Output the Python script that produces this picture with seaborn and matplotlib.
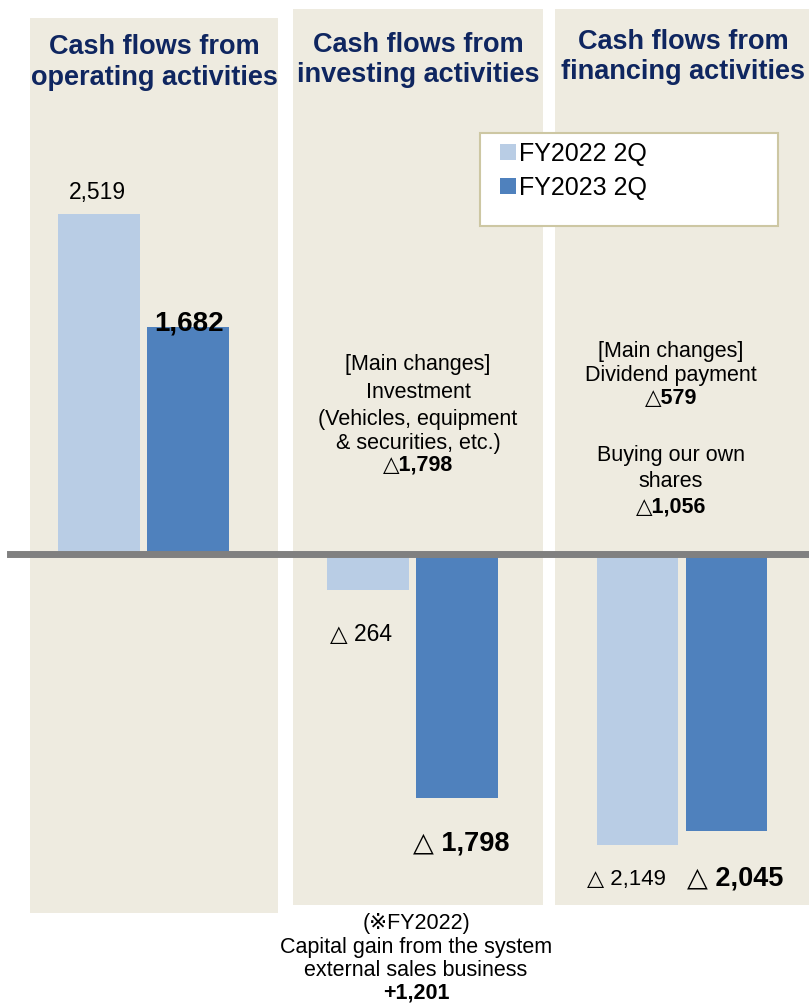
import matplotlib
matplotlib.use("Agg")
import matplotlib.pyplot as plt
from matplotlib.patches import Rectangle
import pandas as pd
import seaborn as sns

# ---- data -------------------------------------------------------------
categories = ["Operating", "Investing", "Financing"]
title_line1 = ["Cash flows from", "Cash flows from", "Cash flows from"]
title_line2 = ["operating activities", "investing activities", "financing activities"]
periods = ["FY2022 2Q", "FY2023 2Q"]
fy2022 = [2519, -264, -2149]
fy2023 = [1682, -1798, -2045]

investing_notes = ["[Main changes]", "Investment", "(Vehicles, equipment",
                   "& securities, etc.)", "△1,798"]
financing_notes = ["[Main changes]", "Dividend payment", "△579",
                   "Buying our own", "shares", "△1,056"]
footnote = ["(※FY2022)", "Capital gain from the system",
            "external sales business", "+1,201"]

# ---- style ------------------------------------------------------------
W, H = 809, 1005
LIGHT = "#b9cde5"
DARK = "#4f81bd"
PANEL = "#eeebe0"
NAVY = "#0f2660"
FAM = ["Liberation Sans", "DejaVu Sans"]
plt.rcParams["font.family"] = FAM


def fx(px):
    return px / W


def fy(py):
    return 1 - py / H


df = pd.DataFrame({
    "category": categories * 2,
    "period": [periods[0]] * 3 + [periods[1]] * 3,
    "value": fy2022 + fy2023,
})

fig = plt.figure(figsize=(W / 100, H / 100), dpi=100)
ax = fig.add_axes([0, 0, 1, 1])

sns.barplot(data=df, x="category", y="value", hue="period", order=categories,
            hue_order=periods, palette=[LIGHT, DARK], width=0.661, gap=0.08,
            errorbar=None, linewidth=0, saturation=1, ax=ax, zorder=2)

# pixel -> data scale
x0_px, step_px = 143.5, 269.25
zero_px, scale = 554.5, 0.1352
ax.set_xlim(-x0_px / step_px, (W - x0_px) / step_px)
ax.set_ylim(-(H - zero_px) / scale, zero_px / scale)
ax.axis("off")

# background panels (axes-fraction boxes)
panels = [(30, 18, 278, 913), (293, 9, 543, 905), (555, 9, 812, 905)]
for l, t, r, b in panels:
    ax.add_patch(Rectangle((fx(l), fy(b)), fx(r) - fx(l), fy(t) - fy(b),
                           transform=ax.transAxes, facecolor=PANEL,
                           edgecolor="none", zorder=0))

# zero line
ax.axhline(0, xmin=fx(10), xmax=1, color="#808080", lw=5.0, zorder=3)

# panel titles
title_pos = [(154, 47, 78), (418, 45, 75), (683, 42, 72)]
for (cx, y1, y2), t1, t2 in zip(title_pos, title_line1, title_line2):
    for yy, txt in ((y1, t1), (y2, t2)):
        ax.text(fx(cx), fy(yy), txt, transform=ax.transAxes, ha="center",
                va="center", fontsize=19.5, fontweight="bold", color=NAVY,
                zorder=5)

# value labels on bars
label_style = {
    0: [(-2, 21, 16.5, "normal"), (-7.5, -44, 16.5, "normal"), (-11.5, -34, 16, "normal")],
    1: [(1, 4, 20, "bold"), (4, -46, 19.5, "bold"), (9, -48, 19.5, "bold")],
}
for h, cont in enumerate(ax.containers[:2]):
    for i, bar in enumerate(cont):
        v = bar.get_height()
        xc = bar.get_x() + bar.get_width() / 2
        dx, dy, fs, fw = label_style[h][i]
        txt = f"{int(round(v)):,}" if v > 0 else f"△ {int(round(-v)):,}"
        ax.annotate(txt, xy=(xc, v), xytext=(dx * 0.72, dy * 0.72),
                    textcoords="offset points", ha="center", va="center",
                    fontsize=fs, fontweight=fw, color="black", zorder=6,
                    family=FAM)

# notes
def note_block(lines, cx, ys, bold_idx):
    for k, (txt, yy) in enumerate(zip(lines, ys)):
        ax.text(fx(cx), fy(yy), txt, transform=ax.transAxes, ha="center",
                va="center", fontsize=15.5,
                fontweight="bold" if k in bold_idx else "normal",
                color="black", zorder=5, family=FAM)


note_block(investing_notes, 418, [364, 393, 419, 443, 465], {4})
note_block(financing_notes, 671, [351, 375, 398, 455, 481, 507], {2, 5})
note_block(footnote, 416, [923, 947, 970, 993], {3})

# legend
ax.add_patch(Rectangle((fx(480), fy(226)), fx(778) - fx(480), fy(133) - fy(226),
                       transform=ax.transAxes, facecolor="white",
                       edgecolor="#cdc7a3", lw=1.5, zorder=4))
sns.move_legend(ax, loc="upper left", bbox_to_anchor=(fx(500), fy(142)),
                title=None, frameon=False, fontsize=18, handlelength=0.64,
                handleheight=0.64, handletextpad=0.12, labelspacing=0.40,
                borderpad=0, borderaxespad=0)
ax.get_legend().set_zorder(7)

fig.savefig("out.png", dpi=100, facecolor="white")
